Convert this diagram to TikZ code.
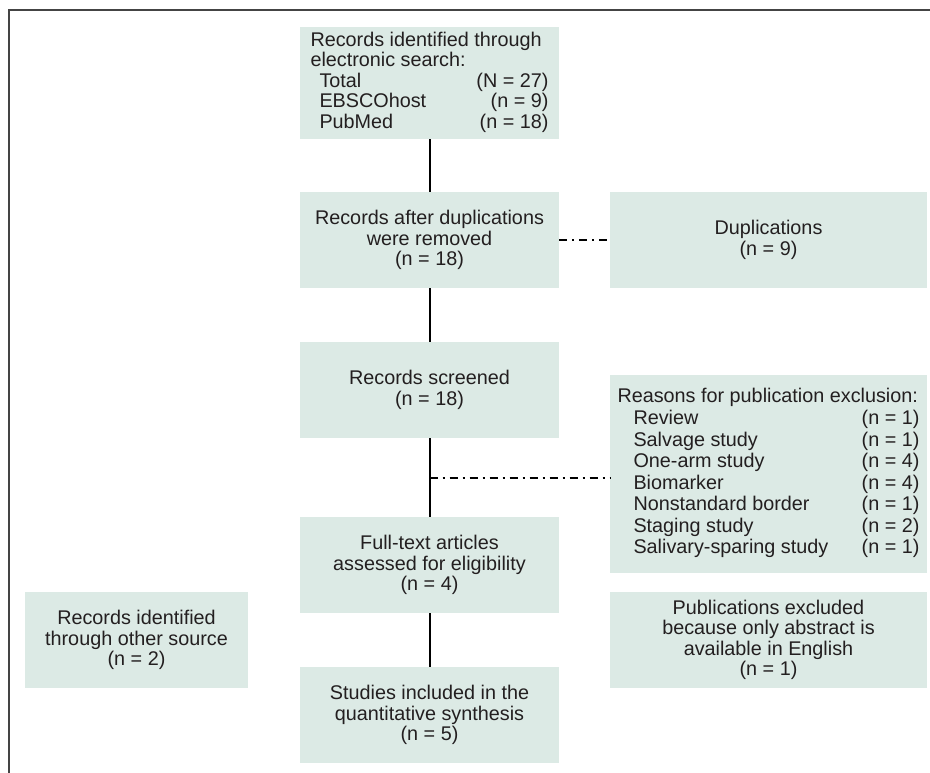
\documentclass[tikz,border=0pt]{standalone}
\usepackage{fontspec}
\setmainfont{Liberation Sans}
\definecolor{boxfill}{RGB}{220,234,229}
\definecolor{ink}{RGB}{35,31,32}
\definecolor{framegray}{RGB}{68,68,68}
\begin{document}
\begin{tikzpicture}[x=1pt, y=-1pt,
	box/.style={fill=boxfill, text=ink, inner sep=0pt, minimum width=259pt, minimum height=96pt, align=center, font=\fontsize{19.8}{20.5}\selectfont},
	wide/.style={box, minimum width=317pt},
	flow/.style={line width=2pt},
	side/.style={line width=2pt, dash pattern=on 8pt off 5pt on 2pt off 5pt}]
	\useasboundingbox (0,0) rectangle (930,773);
	\draw[framegray, line width=2pt] (8.5,773) -- (8.5,10.5) -- (930,10.5);
	\node[box, minimum height=112pt] (search) at (429.5,83) {\setlength\tabcolsep{0pt}%
		\begin{tabular*}{238pt}{@{\hspace{9pt}}l@{\extracolsep{\fill}}r@{}}
			\multicolumn{2}{@{}l@{}}{Records identified through}\\
			\multicolumn{2}{@{}l@{}}{electronic search:}\\
			Total & (N = 27)\\
			EBSCOhost & (n = 9)\\
			PubMed & (n = 18)
		\end{tabular*}};
	\node[box] (dedup) at (429.5,240) {Records after duplications\\were removed\\(n = 18)};
	\node[wide] (dup) at (768.5,240) {Duplications\\(n = 9)};
	\node[box] (screened) at (429.5,390) {Records screened\\(n = 18)};
	\node[wide, minimum height=198pt] (reasons) at (768.5,474) {\setlength\tabcolsep{0pt}\renewcommand\arraystretch{1.05}%
		\begin{tabular*}{302pt}{@{\hspace{16pt}}l@{\extracolsep{\fill}}r@{}}
			\multicolumn{2}{@{}l@{}}{Reasons for publication exclusion:}\\
			Review & (n = 1)\\
			Salvage study & (n = 1)\\
			One-arm study & (n = 4)\\
			Biomarker & (n = 4)\\
			Nonstandard border & (n = 1)\\
			Staging study & (n = 2)\\
			Salivary-sparing study & (n = 1)
		\end{tabular*}};
	\node[box] (fulltext) at (429.5,565) {Full-text articles\\assessed for eligibility\\(n = 4)};
	\node[box, minimum width=223pt] (other) at (136.5,640) {Records identified\\through other source\\(n = 2)};
	\node[wide] (english) at (768.5,640) {Publications excluded\\because only abstract is\\available in English\\(n = 1)};
	\node[box] (included) at (429.5,715) {Studies included in the\\quantitative synthesis\\(n = 5)};
	\coordinate (split) at (429.5,478);
	\draw[flow] (search) -- (dedup);
	\draw[side] (dedup) -- (dup);
	\draw[flow] (dedup) -- (screened);
	\draw[flow] (screened) -- (fulltext);
	\draw[side] (split) -- (split -| reasons.west);
	\draw[flow] (fulltext) -- (included);
\end{tikzpicture}
\end{document}
